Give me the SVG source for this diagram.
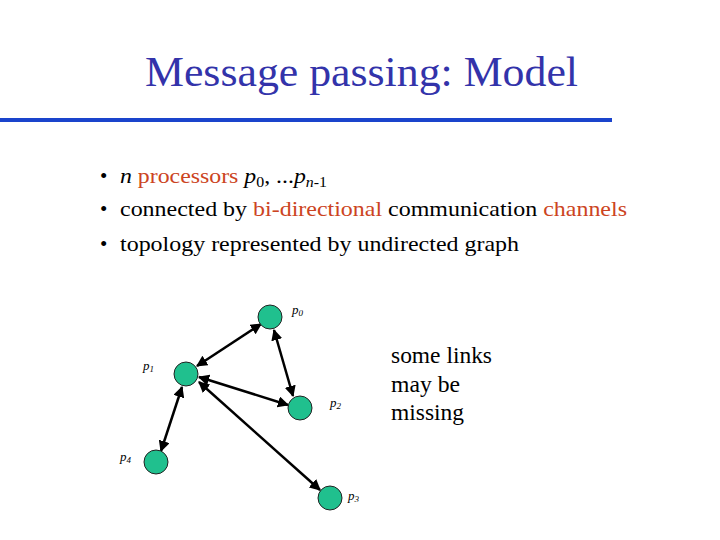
<svg xmlns="http://www.w3.org/2000/svg" width="720" height="540" viewBox="0 0 720 540">
<style>
.title{font-size:42px;fill:#3333aa;}
.b{font-size:21px;fill:#000;}
.r{fill:#cc4422;}
.lbl{font-size:13px;font-style:italic;fill:#000;}
.node{fill:#20c08e;stroke:#222;stroke-width:1;}
.edge{stroke:#000;stroke-width:2.5;fill:none;marker-start:url(#ah);marker-end:url(#ah);}
.note{font-size:23px;fill:#000;}
</style>
<defs>
<marker id="ah" viewBox="0 0 10 10" refX="9" refY="5" markerWidth="4.5" markerHeight="4.5" orient="auto-start-reverse" markerUnits="strokeWidth">
<path d="M0,0 L10,5 L0,10 z" fill="#000"/>
</marker>
</defs>
<rect width="720" height="540" fill="#fff"/>
<g font-family="'Liberation Serif', 'DejaVu Serif', serif">
<text class="title" x="145" y="86" textLength="433" lengthAdjust="spacingAndGlyphs">Message passing: Model</text>
<rect x="0" y="118" width="612" height="4" fill="#1a44cc"/>
<g id="bullets" class="b">
<text x="100" y="183">•</text>
<text x="120" y="183" textLength="207" lengthAdjust="spacingAndGlyphs"><tspan font-style="italic">n</tspan> <tspan class="r">processors</tspan> <tspan font-style="italic">p</tspan><tspan font-size="14" dy="4">0</tspan><tspan dy="-4">, ...</tspan><tspan font-style="italic">p</tspan><tspan font-size="14" dy="4"><tspan font-style="italic">n</tspan>-1</tspan></text>
<text x="100" y="216">•</text>
<text x="120" y="216" textLength="507" lengthAdjust="spacingAndGlyphs">connected by <tspan class="r">bi-directional</tspan> communication <tspan class="r">channels</tspan></text>
<text x="100" y="251">•</text>
<text x="120" y="251" textLength="399" lengthAdjust="spacingAndGlyphs">topology represented by undirected graph</text>
</g>
<g id="edges">
<line class="edge" x1="261" y1="324" x2="197" y2="366"/>
<line class="edge" x1="274" y1="330" x2="293" y2="396"/>
<line class="edge" x1="199" y1="377" x2="288" y2="405"/>
<line class="edge" x1="199" y1="382" x2="320" y2="490"/>
<line class="edge" x1="182" y1="387" x2="161" y2="451"/>
</g>
<g id="p0"><circle class="node" cx="270" cy="317" r="12"/><text class="lbl" x="292" y="314">p<tspan font-size="9" dy="2">0</tspan></text></g>
<g id="p1"><circle class="node" cx="186" cy="374" r="12"/><text class="lbl" x="143" y="370">p<tspan font-size="9" dy="2">1</tspan></text></g>
<g id="p2"><circle class="node" cx="300" cy="408" r="12"/><text class="lbl" x="330" y="407">p<tspan font-size="9" dy="2">2</tspan></text></g>
<g id="p3"><circle class="node" cx="330" cy="498" r="12"/><text class="lbl" x="348" y="500">p<tspan font-size="9" dy="2">3</tspan></text></g>
<g id="p4"><circle class="node" cx="156" cy="462" r="12"/><text class="lbl" x="120" y="461">p<tspan font-size="9" dy="2">4</tspan></text></g>
<g id="note" class="note">
<text x="391" y="363" textLength="101" lengthAdjust="spacingAndGlyphs">some links</text>
<text x="391" y="392" textLength="69" lengthAdjust="spacingAndGlyphs">may be</text>
<text x="391" y="420" textLength="73" lengthAdjust="spacingAndGlyphs">missing</text>
</g>
</g>
</svg>
